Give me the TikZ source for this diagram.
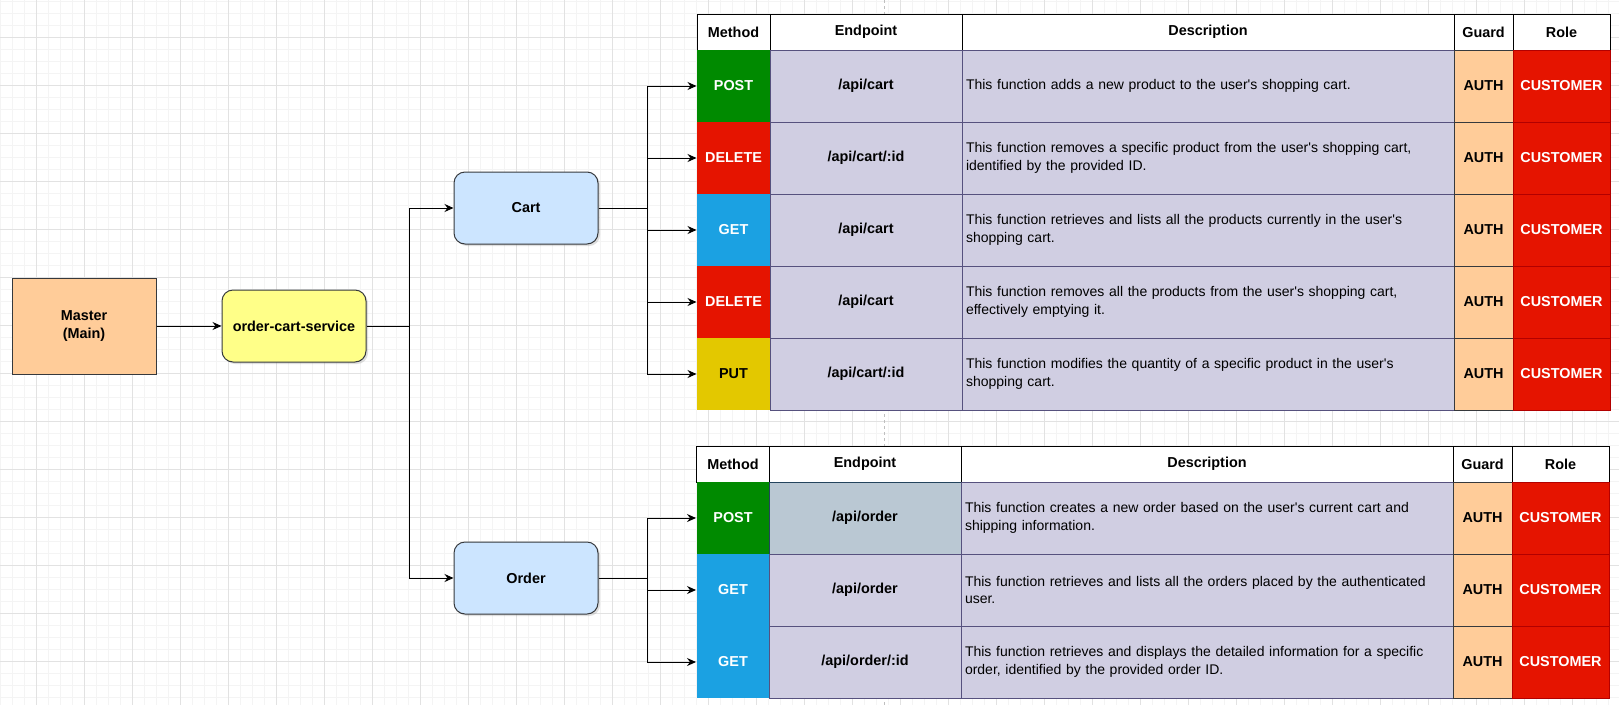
\documentclass[tikz,border=0pt]{standalone}
\usepackage{fontspec}
\setmainfont{Liberation Sans}[Ligatures=TeXOff]
\usetikzlibrary{arrows.meta,shadows}

\definecolor{gridminor}{HTML}{F4F4F4}
\definecolor{gridmajor}{HTML}{E2E2E2}
\definecolor{boxline}{HTML}{36393D}
\definecolor{masterfill}{HTML}{FFCC99}
\definecolor{servicefill}{HTML}{FFFF88}
\definecolor{modulefill}{HTML}{CCE5FF}
\definecolor{postfill}{HTML}{008A00}
\definecolor{deletefill}{HTML}{E51400}
\definecolor{getfill}{HTML}{1BA1E2}
\definecolor{putfill}{HTML}{E3C800}
\definecolor{rowfill}{HTML}{D0CEE2}
\definecolor{rowline}{HTML}{56517E}
\definecolor{greyfill}{HTML}{BAC8D3}
\definecolor{greyline}{HTML}{23445D}
\definecolor{roleline}{HTML}{B20000}

\begin{document}
\begin{tikzpicture}[x=1pt,y=-1pt,
  font=\fontsize{14}{17.5}\selectfont,
  box/.style={draw=boxline,line width=1pt,inner sep=0pt,align=center,font=\fontsize{14.4}{17.5}\selectfont\bfseries},
  modbox/.style={box,rounded corners=11pt,drop shadow={opacity=0.25,shadow xshift=2pt,shadow yshift=-2pt}},
  hdr/.style={draw=black,fill=white,line width=1pt,inner sep=0pt,minimum height=36pt,font=\fontsize{14.4}{17.5}\selectfont\bfseries},
  cell/.style={line width=1pt,inner sep=0pt,minimum height=72pt,font=\fontsize{14.4}{17.5}\selectfont\bfseries},
  method/.style={cell,minimum width=73pt,text=white},
  endpt/.style={cell,draw=rowline,fill=rowfill,minimum width=192pt},
  descr/.style={cell,draw=rowline,fill=rowfill,text width=484pt,inner xsep=4pt,align=left,font=\fontsize{14}{17.5}\selectfont},
  guard/.style={cell,draw=boxline,fill=masterfill,minimum width=59pt},
  role/.style={cell,draw=roleline,fill=deletefill,minimum width=97pt,text=white},
  link/.style={draw=black,line width=1pt},
  arr/.style={link,-{Stealth[length=9pt,width=8pt,inset=3pt]}}]

  % background grid
  \fill[white] (0,0) rectangle (1619,705);
  \useasboundingbox (0,0) rectangle (1619,705);
  \foreach \gx in {0,12,...,1619} \draw[gridminor,line width=0.8pt] (\gx,0) -- (\gx,705);
  \foreach \gy in {1,13,...,705} \draw[gridminor,line width=0.8pt] (0,\gy) -- (1619,\gy);
  \foreach \gx in {36,84,...,1619} \draw[gridmajor,line width=0.8pt] (\gx,0) -- (\gx,705);
  \foreach \gy in {37,85,...,705} \draw[gridmajor,line width=0.8pt] (0,\gy) -- (1619,\gy);
  \draw[gray!50,dashed,line width=0.8pt] (884,0) -- (884,705);

  % services
  \node[box,fill=masterfill,minimum width=144pt,minimum height=96pt] (master) at (84,326) {Master\\(Main)};
  \node[modbox,fill=servicefill,minimum width=144pt,minimum height=72pt] (service) at (294,326) {order-cart-service};
  \node[modbox,fill=modulefill,minimum width=144pt,minimum height=72pt] (cart) at (526,208) {Cart};
  \node[modbox,fill=modulefill,minimum width=144pt,minimum height=72pt] (order) at (526,578) {Order};

  % cart table
  \node[hdr,minimum width=73pt] (cmh) at (733.5,32) {Method};
  \node[hdr,minimum width=192pt] (ceh) at (866,32) {Endpoint};
  \node[hdr,minimum width=492pt] (cdh) at (1208,32) {Description};
  \node[hdr,minimum width=59pt] (cgh) at (1483.5,32) {Guard};
  \node[hdr,minimum width=97pt] (crh) at (1561.5,32) {Role};

  \node[method,fill=postfill] (c1) at (733.5,86) {POST};
  \node[endpt] at (866,86) {/api/cart};
  \node[descr] at (1208,86) {This function adds a new product to the user's shopping cart.};
  \node[guard] at (1483.5,86) {AUTH};
  \node[role] at (1561.5,86) {CUSTOMER};

  \node[method,fill=deletefill] (c2) at (733.5,158) {DELETE};
  \node[endpt] at (866,158) {/api/cart/:id};
  \node[descr] at (1208,158) {This function removes a specific product from the user's shopping cart,\\identified by the provided ID.};
  \node[guard] at (1483.5,158) {AUTH};
  \node[role] at (1561.5,158) {CUSTOMER};

  \node[method,fill=getfill] (c3) at (733.5,230) {GET};
  \node[endpt] at (866,230) {/api/cart};
  \node[descr] at (1208,230) {This function retrieves and lists all the products currently in the user's\\shopping cart.};
  \node[guard] at (1483.5,230) {AUTH};
  \node[role] at (1561.5,230) {CUSTOMER};

  \node[method,fill=deletefill] (c4) at (733.5,302) {DELETE};
  \node[endpt] at (866,302) {/api/cart};
  \node[descr] at (1208,302) {This function removes all the products from the user's shopping cart,\\effectively emptying it.};
  \node[guard] at (1483.5,302) {AUTH};
  \node[role] at (1561.5,302) {CUSTOMER};

  \node[method,fill=putfill,text=black] (c5) at (733.5,374) {PUT};
  \node[endpt] at (866,374) {/api/cart/:id};
  \node[descr] at (1208,374) {This function modifies the quantity of a specific product in the user's\\shopping cart.};
  \node[guard] at (1483.5,374) {AUTH};
  \node[role] at (1561.5,374) {CUSTOMER};

  % order table
  \node[hdr,minimum width=73pt] (omh) at (733,464) {Method};
  \node[hdr,minimum width=192pt] (oeh) at (865,464) {Endpoint};
  \node[hdr,minimum width=492pt] (odh) at (1207,464) {Description};
  \node[hdr,minimum width=59pt] (ogh) at (1482.5,464) {Guard};
  \node[hdr,minimum width=97pt] (orh) at (1560.5,464) {Role};

  \node[method,fill=postfill] (o1) at (733,518) {POST};
  \node[endpt,draw=greyline,fill=greyfill] at (865,518) {/api/order};
  \node[descr] at (1207,518) {This function creates a new order based on the user's current cart and\\shipping information.};
  \node[guard] at (1482.5,518) {AUTH};
  \node[role] at (1560.5,518) {CUSTOMER};

  \node[method,fill=getfill] (o2) at (733,590) {GET};
  \node[endpt] at (865,590) {/api/order};
  \node[descr] at (1207,590) {This function retrieves and lists all the orders placed by the authenticated\\user.};
  \node[guard] at (1482.5,590) {AUTH};
  \node[role] at (1560.5,590) {CUSTOMER};

  \node[method,fill=getfill] (o3) at (733,662) {GET};
  \node[endpt] at (865,662) {/api/order/:id};
  \node[descr] at (1207,662) {This function retrieves and displays the detailed information for a specific\\order, identified by the provided order ID.};
  \node[guard] at (1482.5,662) {AUTH};
  \node[role] at (1560.5,662) {CUSTOMER};

  % connectors
  \coordinate (trunk) at (409,326);
  \coordinate (cartfork) at (647,208);
  \coordinate (orderfork) at (647,578);
  \draw[arr] (master) -- (service);
  \draw[link] (service) -- (trunk);
  \draw[arr] (trunk) |- (cart.west);
  \draw[arr] (trunk) |- (order.west);
  \draw[link] (cart) -- (cartfork);
  \draw[link] (order) -- (orderfork);
  \foreach \r in {c1,c2,c3,c4,c5} \draw[arr] (cartfork) |- (\r.west);
  \foreach \r in {o1,o2,o3} \draw[arr] (orderfork) |- (\r.west);
\end{tikzpicture}
\end{document}
